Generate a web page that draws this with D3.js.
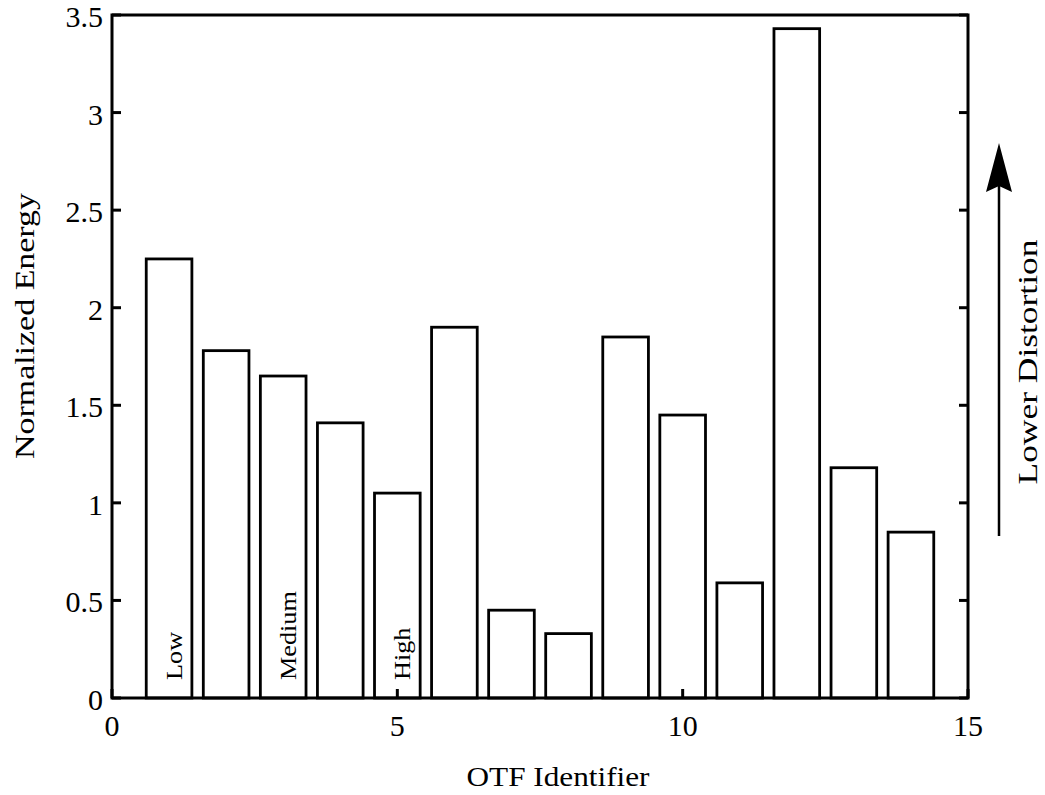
<!DOCTYPE html>
<html><head><meta charset="utf-8">
<script src="https://cdn.jsdelivr.net/npm/d3@7"></script>
<style>body{margin:0;background:#fff;} text{font-family:"Liberation Serif","Times New Roman",serif;fill:#000;}</style>
</head><body>
<svg id="c" width="1045" height="795"></svg>
<script>
const ids = [1,2,3,4,5,6,7,8,9,10,11,12,13,14];
const energy = [2.25,1.78,1.65,1.41,1.05,1.90,0.45,0.33,1.85,1.45,0.59,3.43,1.18,0.85];
const xTicks = [0,5,10,15];
const yTicks = [0,0.5,1,1.5,2,2.5,3,3.5];
const yTickLabels = ["0","0.5","1","1.5","2","2.5","3","3.5"];
const barNotes = [{id:1,text:"Low"},{id:3,text:"Medium"},{id:5,text:"High"}];

const svg = d3.select("#c");
const L=112, R=968, T=15, B=698;
const x = d3.scaleLinear().domain([0,15]).range([L,R]);
const y = d3.scaleLinear().domain([0,3.5]).range([B,T]);
const bw = 0.8;

function stretch(sel, k){ sel.each(function(){ const w=this.getComputedTextLength(); d3.select(this).attr("textLength", w*k).attr("lengthAdjust","spacingAndGlyphs"); }); }

svg.selectAll("rect.bar").data(ids).enter().append("rect")
  .attr("x", d=>x(d-bw/2)).attr("width", x(bw)-x(0))
  .attr("y", (d,i)=>y(energy[i])).attr("height",(d,i)=>B-y(energy[i]))
  .attr("fill","#fff").attr("stroke","#000").attr("stroke-width",2.8);

const notes = svg.selectAll("text.note").data(barNotes).enter().append("text")
  .attr("transform", d=>`translate(${x(d.id)+13},${B-18}) rotate(-90)`)
  .attr("font-size",23).text(d=>d.text);
stretch(notes, 1.14);

// axes
const axisG = svg.append("g");
axisG.append("rect").attr("x",L).attr("y",T).attr("width",R-L).attr("height",B-T)
  .attr("fill","none").attr("stroke","#000").attr("stroke-width",3);
const tl = 9;
yTicks.forEach((v,i)=>{
  axisG.append("line").attr("x1",L).attr("x2",L+tl).attr("y1",y(v)).attr("y2",y(v)).attr("stroke","#000").attr("stroke-width",3);
  axisG.append("line").attr("x1",R).attr("x2",R-tl).attr("y1",y(v)).attr("y2",y(v)).attr("stroke","#000").attr("stroke-width",3);
  axisG.append("text").attr("x",L-9).attr("y",y(v)+12).attr("text-anchor","end").attr("font-size",30).text(yTickLabels[i]);
});
xTicks.forEach(v=>{
  axisG.append("line").attr("x1",x(v)).attr("x2",x(v)).attr("y1",B).attr("y2",B-tl).attr("stroke","#000").attr("stroke-width",3);
  axisG.append("text").attr("x",x(v)).attr("y",B+38).attr("text-anchor","middle").attr("font-size",30).text(v);
});

svg.append("text").attr("x",558).attr("y",786).attr("text-anchor","middle").attr("font-size",27)
  .attr("textLength",183).attr("lengthAdjust","spacingAndGlyphs").text("OTF Identifier");
svg.append("text").attr("transform",`translate(34,326) rotate(-90)`).attr("text-anchor","middle").attr("font-size",27)
  .attr("textLength",266).attr("lengthAdjust","spacingAndGlyphs").text("Normalized Energy");

// arrow
svg.append("line").attr("x1",999).attr("x2",999).attr("y1",536).attr("y2",180).attr("stroke","#000").attr("stroke-width",2.5);
svg.append("path").attr("d","M999,143 L986,192 L999,186 L1012,192 Z").attr("fill","#000");
svg.append("text").attr("transform","translate(1037,362) rotate(-90)").attr("text-anchor","middle").attr("font-size",27)
  .attr("textLength",245).attr("lengthAdjust","spacingAndGlyphs").text("Lower Distortion");
</script>
</body></html>
